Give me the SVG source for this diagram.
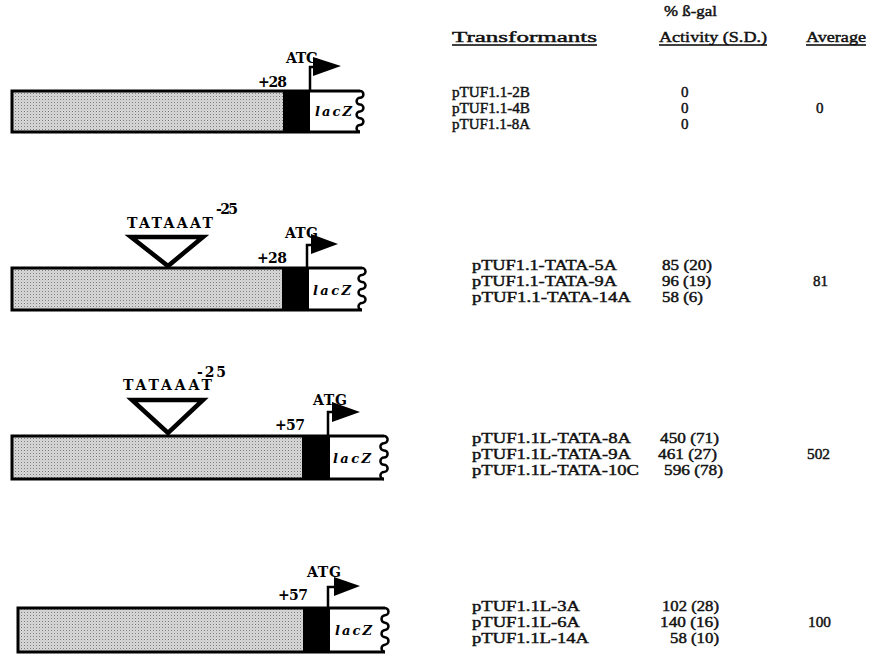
<svg xmlns="http://www.w3.org/2000/svg" width="874" height="655" viewBox="0 0 874 655">
<defs>
<pattern id="stip" width="3" height="3" patternUnits="userSpaceOnUse">
<rect width="3" height="3" fill="#ececec"/>
<rect x="0" y="0" width="1" height="1" fill="#7a7a7a"/>
<rect x="1.5" y="1.5" width="1" height="1" fill="#7a7a7a"/>
<rect x="1.5" y="0" width="1" height="1" fill="#c4c4c4"/>
<rect x="0" y="1.5" width="1" height="1" fill="#c4c4c4"/>
</pattern>
<style>
.lbl{font-family:"DejaVu Serif","Liberation Serif",serif;font-weight:bold;font-size:14px;fill:#000}
.lac{font-family:"DejaVu Serif","Liberation Serif",serif;font-weight:bold;font-style:italic;font-size:13px;fill:#000}
.tb{font-family:"Liberation Serif","DejaVu Serif",serif;font-size:15px;fill:#111;stroke:#111;stroke-width:0.45}
.out{fill:none;stroke:#000;stroke-width:3}
.wav{fill:none;stroke:#000;stroke-width:2.5}
.tri{fill:none;stroke:#000;stroke-width:4.5;stroke-linejoin:miter}
.pole{fill:none;stroke:#000;stroke-width:2.5}
.ul{stroke:#000;stroke-width:1.3}
</style>
</defs>
<rect width="874" height="655" fill="#fff"/>

<g id="construct1">
<rect x="12" y="91" width="271" height="41" fill="url(#stip)"/>
<rect x="283" y="91" width="27" height="41" fill="#000"/>
<path class="out" d="M360,91 H12 V132 H360"/>
<path class="wav" d="M360,91 a3.4,3.4 0 0,1 0,6.8 a3.4,3.4 0 0,0 0,6.8 a3.4,3.4 0 0,1 0,6.8 a3.4,3.4 0 0,0 0,6.8 a3.4,3.4 0 0,1 0,6.8 a3.4,3.4 0 0,0 0,6.8"/>
<path class="pole" d="M310,91 V67 H315"/>
<polygon points="313,57 341,66 313,76" fill="#000"/>
<text class="lbl" x="286" y="63" textLength="32" lengthAdjust="spacing">ATG</text>
<text class="lbl" x="258" y="87" textLength="29" lengthAdjust="spacing">+28</text>
<text class="lac" x="315" y="116" textLength="37" lengthAdjust="spacing">lacZ</text>
</g>

<g id="construct2">
<rect x="12" y="268" width="270" height="42" fill="url(#stip)"/>
<rect x="282" y="268" width="27" height="42" fill="#000"/>
<path class="out" d="M362,268 H12 V310 H362"/>
<path class="wav" d="M362,268 a3.5,3.5 0 0,1 0,7 a3.5,3.5 0 0,0 0,7 a3.5,3.5 0 0,1 0,7 a3.5,3.5 0 0,0 0,7 a3.5,3.5 0 0,1 0,7 a3.5,3.5 0 0,0 0,7"/>
<path class="pole" d="M307,268 V245 H313"/>
<polygon points="311,234 338,244 311,254" fill="#000"/>
<text class="lbl" x="285" y="238" textLength="33" lengthAdjust="spacing">ATG</text>
<text class="lbl" x="257" y="263" textLength="30" lengthAdjust="spacing">+28</text>
<text class="lac" x="313" y="295" textLength="38" lengthAdjust="spacing">lacZ</text>
<polygon class="tri" points="131,237 203,237 168,266"/>
<text class="lbl" x="127" y="228" textLength="86" lengthAdjust="spacing">TATAAAT</text>
<text class="lbl" x="216" y="214" textLength="22" lengthAdjust="spacing">-25</text>
</g>

<g id="construct3">
<rect x="12" y="436" width="290" height="43" fill="url(#stip)"/>
<rect x="302" y="436" width="28" height="43" fill="#000"/>
<path class="out" d="M384,436 H12 V479 H384"/>
<path class="wav" d="M384,436 a3.6,3.6 0 0,1 0,7.2 a3.6,3.6 0 0,0 0,7.2 a3.6,3.6 0 0,1 0,7.2 a3.6,3.6 0 0,0 0,7.2 a3.6,3.6 0 0,1 0,7.2 a3.6,3.6 0 0,0 0,7.2"/>
<path class="pole" d="M328,436 V412 H334"/>
<polygon points="332,402 360,412 332,422" fill="#000"/>
<text class="lbl" x="313" y="405" textLength="34" lengthAdjust="spacing">ATG</text>
<text class="lbl" x="275" y="430" textLength="30" lengthAdjust="spacing">+57</text>
<text class="lac" x="333" y="463" textLength="38" lengthAdjust="spacing">lacZ</text>
<polygon class="tri" points="132,400 203,400 168,433"/>
<text class="lbl" x="123" y="390" textLength="89" lengthAdjust="spacing">TATAAAT</text>
<text class="lbl" x="197" y="377" textLength="29" lengthAdjust="spacing">-25</text>
</g>

<g id="construct4">
<rect x="18" y="608" width="285" height="44" fill="url(#stip)"/>
<rect x="303" y="608" width="27" height="44" fill="#000"/>
<path class="out" d="M385,608 H18 V652 H385"/>
<path class="wav" d="M385,608 a3.67,3.67 0 0,1 0,7.33 a3.67,3.67 0 0,0 0,7.33 a3.67,3.67 0 0,1 0,7.33 a3.67,3.67 0 0,0 0,7.33 a3.67,3.67 0 0,1 0,7.33 a3.67,3.67 0 0,0 0,7.33"/>
<path class="pole" d="M328,608 V587 H335"/>
<polygon points="334,577 360,586 334,596" fill="#000"/>
<text class="lbl" x="307" y="577" textLength="34" lengthAdjust="spacing">ATG</text>
<text class="lbl" x="278" y="600" textLength="30" lengthAdjust="spacing">+57</text>
<text class="lac" x="335" y="635" textLength="37" lengthAdjust="spacing">lacZ</text>
</g>

<g id="table-header">
<text class="tb" x="664" y="16" textLength="53" lengthAdjust="spacingAndGlyphs">% ß-gal</text>
<text class="tb" x="452" y="42" textLength="145" lengthAdjust="spacingAndGlyphs">Transformants</text>
<text class="tb" x="659" y="42" textLength="108" lengthAdjust="spacingAndGlyphs">Activity (S.D.)</text>
<text class="tb" x="806" y="42" textLength="60" lengthAdjust="spacingAndGlyphs">Average</text>
<line class="ul" x1="452" y1="45" x2="597" y2="45"/>
<line class="ul" x1="659" y1="45" x2="767" y2="45"/>
<line class="ul" x1="806" y1="45" x2="866" y2="45"/>
</g>

<g id="table-row1">
<text class="tb" x="452" y="97" textLength="78" lengthAdjust="spacingAndGlyphs">pTUF1.1-2B</text>
<text class="tb" x="452" y="113" textLength="78" lengthAdjust="spacingAndGlyphs">pTUF1.1-4B</text>
<text class="tb" x="452" y="129" textLength="78" lengthAdjust="spacingAndGlyphs">pTUF1.1-8A</text>
<text class="tb" x="681" y="97">0</text>
<text class="tb" x="681" y="113">0</text>
<text class="tb" x="681" y="129">0</text>
<text class="tb" x="816" y="113">0</text>
</g>

<g id="table-row2">
<text class="tb" x="472" y="270" textLength="145" lengthAdjust="spacingAndGlyphs">pTUF1.1-TATA-5A</text>
<text class="tb" x="472" y="286" textLength="145" lengthAdjust="spacingAndGlyphs">pTUF1.1-TATA-9A</text>
<text class="tb" x="472" y="302" textLength="159" lengthAdjust="spacingAndGlyphs">pTUF1.1-TATA-14A</text>
<text class="tb" x="662" y="270" textLength="50" lengthAdjust="spacingAndGlyphs">85 (20)</text>
<text class="tb" x="662" y="286" textLength="49" lengthAdjust="spacingAndGlyphs">96 (19)</text>
<text class="tb" x="662" y="302" textLength="41" lengthAdjust="spacingAndGlyphs">58 (6)</text>
<text class="tb" x="813" y="286" textLength="15" lengthAdjust="spacingAndGlyphs">81</text>
</g>

<g id="table-row3">
<text class="tb" x="472" y="443" textLength="159" lengthAdjust="spacingAndGlyphs">pTUF1.1L-TATA-8A</text>
<text class="tb" x="472" y="459" textLength="159" lengthAdjust="spacingAndGlyphs">pTUF1.1L-TATA-9A</text>
<text class="tb" x="472" y="475" textLength="167" lengthAdjust="spacingAndGlyphs">pTUF1.1L-TATA-10C</text>
<text class="tb" x="660" y="443" textLength="59" lengthAdjust="spacingAndGlyphs">450 (71)</text>
<text class="tb" x="658" y="459" textLength="59" lengthAdjust="spacingAndGlyphs">461 (27)</text>
<text class="tb" x="664" y="475" textLength="59" lengthAdjust="spacingAndGlyphs">596 (78)</text>
<text class="tb" x="807" y="459" textLength="23" lengthAdjust="spacingAndGlyphs">502</text>
</g>

<g id="table-row4">
<text class="tb" x="472" y="611" textLength="108" lengthAdjust="spacingAndGlyphs">pTUF1.1L-3A</text>
<text class="tb" x="472" y="627" textLength="108" lengthAdjust="spacingAndGlyphs">pTUF1.1L-6A</text>
<text class="tb" x="472" y="643" textLength="117" lengthAdjust="spacingAndGlyphs">pTUF1.1L-14A</text>
<text class="tb" x="662" y="611" textLength="57" lengthAdjust="spacingAndGlyphs">102 (28)</text>
<text class="tb" x="660" y="627" textLength="59" lengthAdjust="spacingAndGlyphs">140 (16)</text>
<text class="tb" x="670" y="643" textLength="49" lengthAdjust="spacingAndGlyphs">58 (10)</text>
<text class="tb" x="808" y="627" textLength="23" lengthAdjust="spacingAndGlyphs">100</text>
</g>
</svg>
